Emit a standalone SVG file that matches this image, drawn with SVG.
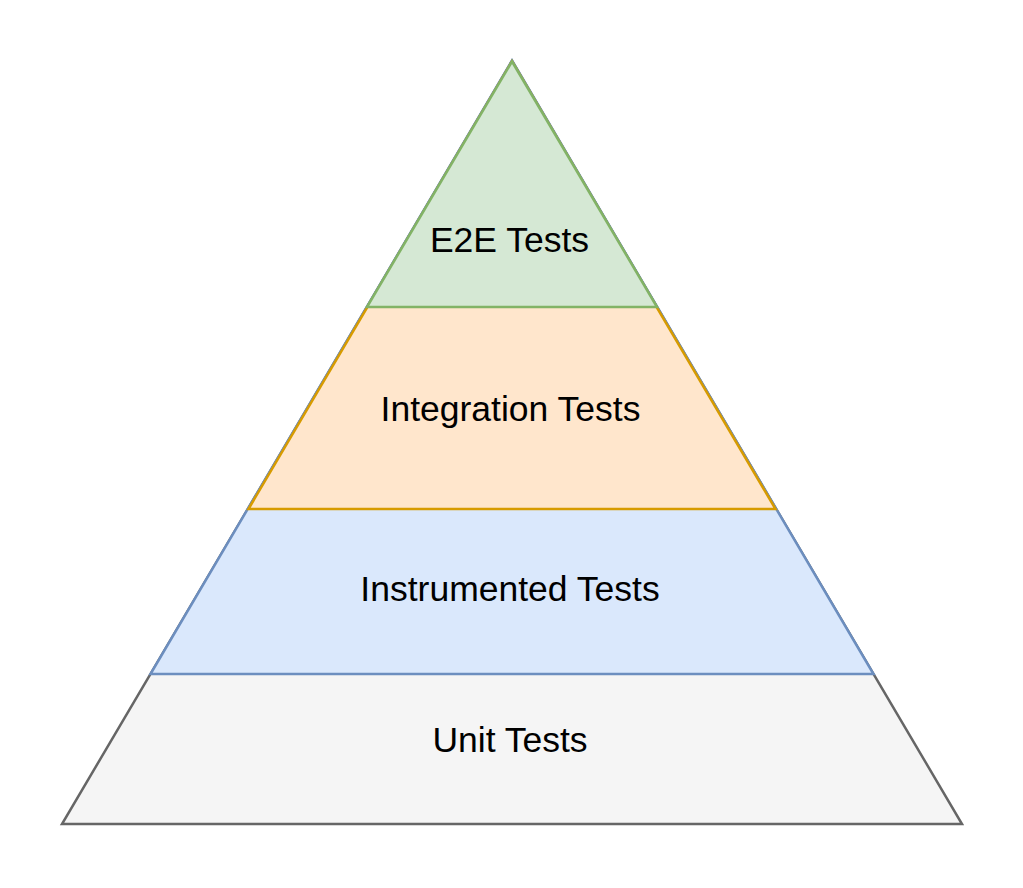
<svg xmlns="http://www.w3.org/2000/svg" width="1023" height="888" viewBox="0 0 1023 888">
<style>
.lbl{font-family:"Liberation Sans",Arial,Helvetica,sans-serif;font-size:35.5px;fill:#000;text-anchor:middle}
.tier{stroke-width:2.5;stroke-linejoin:miter}
</style>
<rect width="1023" height="888" fill="#ffffff"/>
<g id="unit-tests">
<polygon class="tier" points="512,61 962,824 62,824" fill="#f5f5f5" stroke="#666666"/>
<text class="lbl" x="510" y="752">Unit Tests</text>
</g>
<g id="instrumented-tests">
<polygon class="tier" points="512,60.5 873.5,674 150.5,674" fill="#dae8fc" stroke="#6c8ebf"/>
<text class="lbl" x="510" y="600.5">Instrumented Tests</text>
</g>
<g id="integration-tests">
<polygon class="tier" points="512,61.5 775.5,509 248.5,509" fill="#ffe6cc" stroke="#d79b00"/>
<text class="lbl" x="510.5" y="420.5">Integration Tests</text>
</g>
<g id="e2e-tests">
<polygon class="tier" points="512,61.5 657,307 367,307" fill="#d5e8d4" stroke="#82b366"/>
<text class="lbl" x="509.5" y="252">E2E Tests</text>
</g>
<g id="connectors"></g>
</svg>
